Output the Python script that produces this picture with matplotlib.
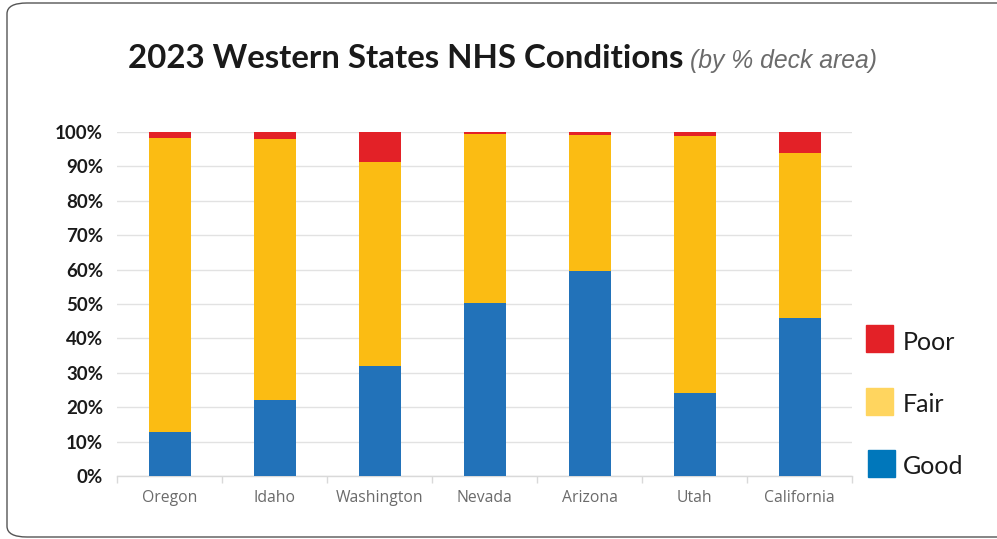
import matplotlib
matplotlib.use("Agg")
import matplotlib.pyplot as plt
from matplotlib.patches import FancyBboxPatch, Rectangle
import numpy as np

states = ["Oregon", "Idaho", "Washington", "Nevada", "Arizona", "Utah", "California"]
good = [12.8, 22.1, 32.0, 50.3, 59.6, 24.2, 45.9]
fair = [85.5, 75.8, 59.3, 49.0, 39.5, 74.6, 48.1]
poor = [1.7, 2.1, 8.7, 0.7, 0.9, 1.2, 6.0]
yticks = [0, 10, 20, 30, 40, 50, 60, 70, 80, 90, 100]
ytick_labels = ["0%", "10%", "20%", "30%", "40%", "50%", "60%", "70%", "80%", "90%", "100%"]
legend_labels = ["Poor", "Fair", "Good"]

C_GOOD = "#2272B9"
C_FAIR = "#FBBC13"
C_POOR = "#E32127"

W, H = 997, 539
fig = plt.figure(figsize=(W / 100, H / 100), dpi=100)

# frame
frame = FancyBboxPatch((7 / W, 2 / H), (W + 20) / W, (H - 5) / H,
                       boxstyle="round,pad=0,rounding_size=0.02",
                       transform=fig.transFigure, fill=False,
                       edgecolor="#555555", linewidth=1.0, clip_on=False)
fig.patches.append(frame)

ax = fig.add_axes([117 / W, 1 - 476 / H, (852 - 117) / W, (476 - 132) / H])
x = np.arange(len(states))
bw = 0.4
ax.bar(x, good, bw, color=C_GOOD, zorder=3)
ax.bar(x, fair, bw, bottom=good, color=C_FAIR, zorder=3)
ax.bar(x, poor, bw, bottom=np.array(good) + np.array(fair), color=C_POOR, zorder=3)

ax.set_xlim(-0.5, len(states) - 0.5)
ax.set_ylim(0, 100)
ax.set_yticks(yticks)
ax.set_yticklabels(ytick_labels, fontfamily="Lato", fontweight="bold", fontsize=13.5, color="#1a1a1a")
ax.tick_params(axis="y", length=0, pad=10)
ax.set_xticks(x)
ax.set_xticklabels(states, fontfamily="Open Sans", fontsize=11.3, color="#6b6b6b")
ax.tick_params(axis="x", length=0, pad=10)
ax.set_xticks(np.arange(-0.5, len(states)), minor=True)
ax.tick_params(axis="x", which="minor", length=5, color="#d9d9d9", width=1)
ax.grid(axis="y", color="#e2e2e2", linewidth=1, zorder=0)
for s in ["top", "right", "left"]:
    ax.spines[s].set_visible(False)
ax.spines["bottom"].set_color("#d9d9d9")
ax.spines["bottom"].set_linewidth(1)

# title
t1 = fig.text(128 / W, 1 - 68 / H, "2023 Western States NHS Conditions",
              fontfamily="Lato", fontweight="bold", fontsize=23.8, color="#1a1a1a",
              va="baseline", ha="left")
fig.canvas.draw()
bb = t1.get_window_extent()
fig.text((bb.x1 + 7) / W, 1 - 68 / H, "(by % deck area)",
         fontfamily="Liberation Sans", fontstyle="italic", fontsize=17.8, color="#6b6b6b",
         va="baseline", ha="left")

# legend
leg_colors = [C_POOR, "#FFD55F", "#0077BB"]
leg_y = [325, 388, 450]
leg_x = [866, 866, 868]
for lab, col, ly, lx in zip(legend_labels, leg_colors, leg_y, leg_x):
    fig.patches.append(Rectangle((lx / W, 1 - (ly + 27) / H), 27 / W, 27 / H,
                                 transform=fig.transFigure, color=col))
    fig.text(903 / W, 1 - (ly + 17) / H, lab, fontfamily="Lato", fontsize=18,
             color="#1a1a1a", va="center", ha="left")

fig.savefig("out.png", dpi=100)
